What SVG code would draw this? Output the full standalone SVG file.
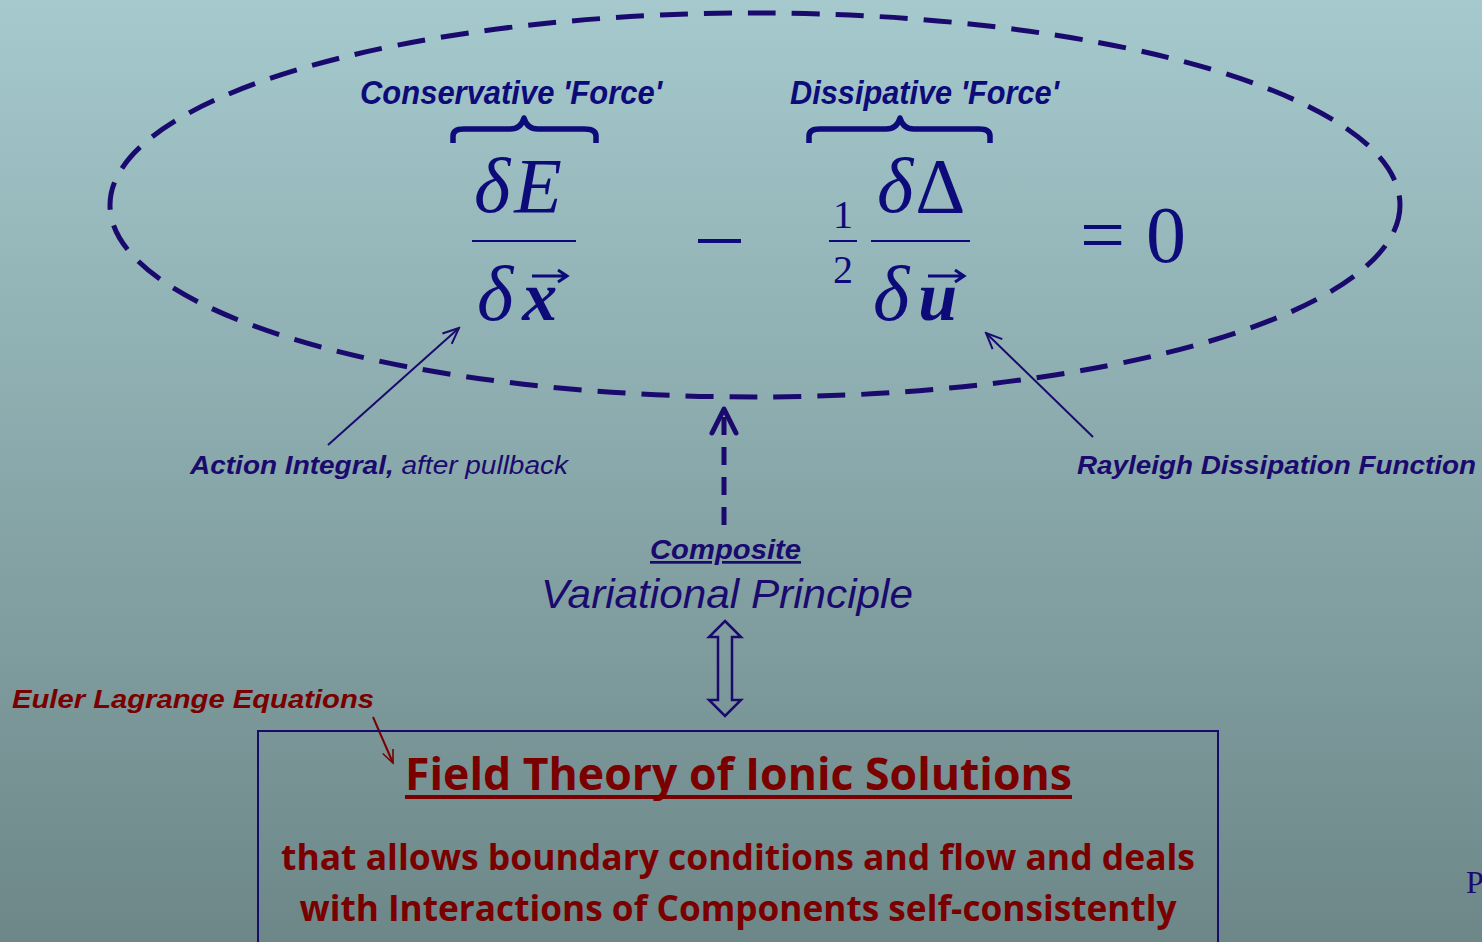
<svg xmlns="http://www.w3.org/2000/svg" width="1482" height="942" viewBox="0 0 1482 942">
<defs>
<linearGradient id="bg" x1="0" y1="0" x2="0" y2="1">
<stop offset="0" stop-color="#a5c9cd"/>
<stop offset="1" stop-color="#6d8788"/>
</linearGradient>
<marker id="open" viewBox="0 0 20 20" refX="18" refY="10" markerWidth="20" markerHeight="20" markerUnits="userSpaceOnUse" orient="auto">
<path d="M2,3 L18,10 L2,17" fill="none" stroke="#1a0a6e" stroke-width="2"/>
</marker>
<marker id="openred" viewBox="0 0 20 20" refX="18" refY="10" markerWidth="16" markerHeight="16" markerUnits="userSpaceOnUse" orient="auto">
<path d="M2,3 L18,10 L2,17" fill="none" stroke="#7a0000" stroke-width="2"/>
</marker>
</defs>
<style>
.navy{fill:#0d0a7a}
.lbl{font-family:"Liberation Sans",Arial,sans-serif;font-style:italic;fill:#1a0a6e}
.cond{font-family:"Liberation Sans",Arial,sans-serif;font-style:italic;font-weight:bold;fill:#0d0a7a}
.math{font-family:"Liberation Serif","Times New Roman",serif;fill:#0d0a7a}
.red{font-family:"Open Sans","Noto Sans",sans-serif;font-weight:bold;fill:#7a0000}
.brace{fill:none;stroke:#0d0a7a;stroke-width:5.5;stroke-linecap:butt;stroke-linejoin:round}
.vec{fill:none;stroke:#0d0a7a;stroke-width:3}
</style>
<rect x="0" y="0" width="1482" height="942" fill="url(#bg)"/>

<g id="ellipse">
<ellipse cx="755" cy="205" rx="645" ry="192" fill="none" stroke="#1a0a6e" stroke-width="5" stroke-dasharray="28,16"/>
</g>

<g id="equation">
<text class="cond" x="360" y="104" font-size="33" textLength="302" lengthAdjust="spacingAndGlyphs">Conservative  'Force'</text>
<text class="cond" x="790" y="104" font-size="33" textLength="269" lengthAdjust="spacingAndGlyphs">Dissipative 'Force'</text>
<path class="brace" d="M453,143 L453,136 Q453,129 464,129 L510,129 Q521,129 524,118 Q527,129 538,129 L584,129 Q596,129 596,136 L596,143"/>
<path class="brace" d="M809,143 L809,136 Q809,129 820,129 L886,129 Q897,129 900,118 Q903,129 914,129 L979,129 Q990,129 990,136 L990,143"/>
<text class="math" x="474" y="212" font-size="78" font-style="italic">δ<tspan dx="4">E</tspan></text>
<rect x="472" y="240" width="104" height="2" class="navy"/>
<text class="math" x="477" y="320" font-size="78" font-style="italic">δ<tspan dx="9" font-size="70" font-weight="bold">x</tspan></text>
<path class="vec" d="M532,276 L566,276 M558,270 L567,276 L558,282"/>
<rect x="698" y="239" width="43" height="4" class="navy"/>
<text class="math" x="843" y="228" font-size="40" text-anchor="middle">1</text>
<rect x="829" y="240" width="28" height="2" class="navy"/>
<text class="math" x="843" y="283" font-size="40" text-anchor="middle">2</text>
<text class="math" x="877" y="212" font-size="78"><tspan font-style="italic">δ</tspan><tspan dx="2">Δ</tspan></text>
<rect x="871" y="240" width="99" height="2" class="navy"/>
<text class="math" x="873" y="320" font-size="78" font-style="italic">δ<tspan dx="9" font-size="70" font-weight="bold">u</tspan></text>
<path class="vec" d="M928,276 L963,276 M955,270 L964,276 L955,282"/>
<text class="math" x="1080" y="262" font-size="80">=</text>
<text class="math" x="1146" y="262" font-size="80">0</text>
</g>

<g id="connectors">
<line x1="328" y1="445" x2="459" y2="328" stroke="#1a0a6e" stroke-width="2" marker-end="url(#open)"/>
<line x1="1093" y1="437" x2="986" y2="333" stroke="#1a0a6e" stroke-width="2" marker-end="url(#open)"/>
<line x1="724" y1="525" x2="724" y2="412" stroke="#1a0a6e" stroke-width="5" stroke-dasharray="18,12"/>
<path d="M712,433 L724,409 L736,433" fill="none" stroke="#1a0a6e" stroke-width="5" stroke-linecap="round" stroke-linejoin="round"/>
<path d="M725,621 L741,637 L732,637 L732,700 L741,700 L725,716 L709,700 L718,700 L718,637 L709,637 Z" fill="none" stroke="#1a0a6e" stroke-width="2.5" stroke-linejoin="miter"/>
<line x1="373" y1="717" x2="393" y2="763" stroke="#7a0000" stroke-width="2" marker-end="url(#openred)"/>
</g>

<g id="label-action">
<text class="lbl" x="190" y="474" font-size="26" textLength="378" lengthAdjust="spacingAndGlyphs"><tspan font-weight="bold">Action Integral,</tspan> after pullback</text>
</g>
<g id="label-rayleigh">
<text class="lbl" x="1077" y="474" font-size="26" font-weight="bold" textLength="399" lengthAdjust="spacingAndGlyphs">Rayleigh Dissipation Function</text>
</g>
<g id="label-principle">
<text class="lbl" x="650" y="559" font-size="27" font-weight="bold" text-decoration="underline" textLength="151" lengthAdjust="spacingAndGlyphs">Composite</text>
<text class="lbl" x="541" y="608" font-size="41" textLength="372" lengthAdjust="spacingAndGlyphs">Variational Principle</text>
</g>
<g id="label-euler">
<text x="12" y="708" font-size="26" font-family="Liberation Sans, Arial, sans-serif" font-style="italic" font-weight="bold" fill="#7a0000" textLength="362" lengthAdjust="spacingAndGlyphs">Euler Lagrange Equations</text>
</g>

<g id="field-theory">
<rect x="258" y="731" width="960" height="240" fill="none" stroke="#1a0a6e" stroke-width="2"/>
<text class="red" x="405" y="790" font-size="45" textLength="667" lengthAdjust="spacingAndGlyphs">Field Theory of Ionic Solutions</text>
<rect x="405" y="795" width="667" height="4" fill="#7a0000"/>
<text class="red" x="738" y="870" font-size="35" text-anchor="middle" textLength="914" lengthAdjust="spacingAndGlyphs">that allows boundary conditions and flow and deals</text>
<text class="red" x="738" y="921" font-size="35" text-anchor="middle" textLength="877" lengthAdjust="spacingAndGlyphs">with Interactions of Components self-consistently</text>
</g>

<g id="edge-p">
<text x="1466" y="893" font-size="32" font-family="Liberation Serif, serif" fill="#1a0a6e">P</text>
</g>
</svg>
